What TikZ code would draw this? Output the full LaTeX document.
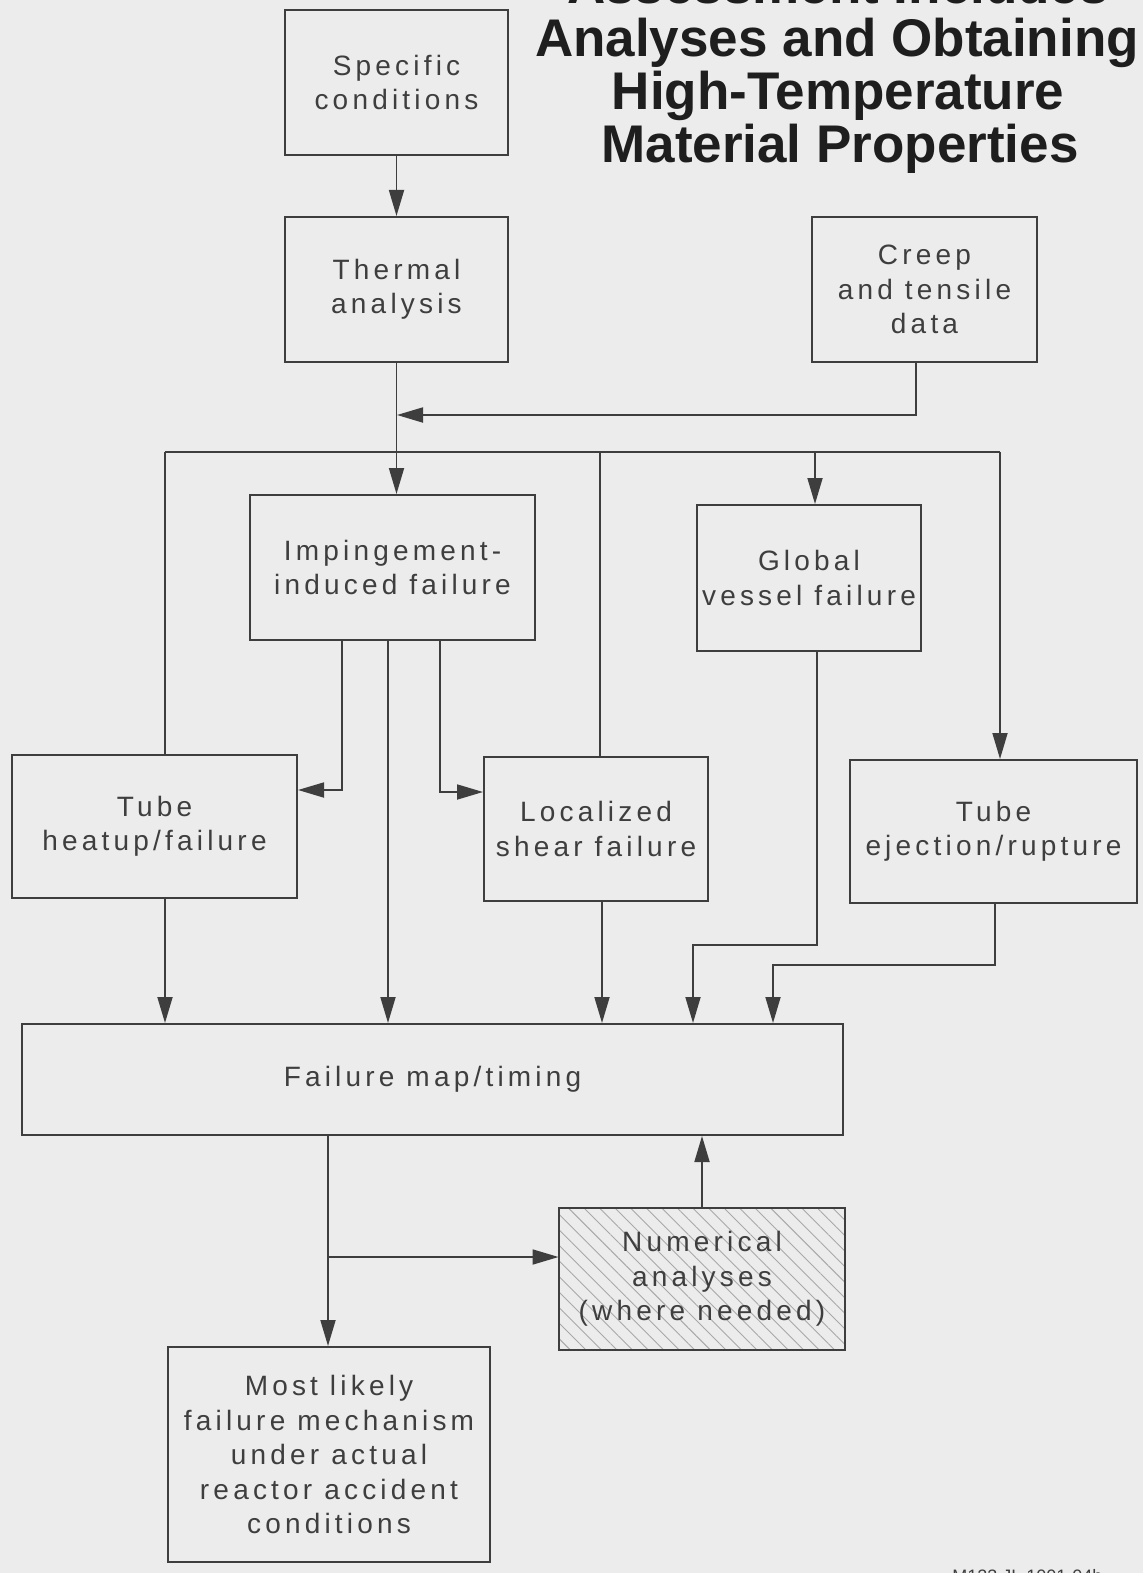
\documentclass[tikz,border=0pt]{standalone}
\usepackage{fontspec}
\setmainfont{Liberation Sans}
\newfontfamily\boxfont{Liberation Sans}[LetterSpace=15]
\usetikzlibrary{arrows.meta,patterns.meta,calc}
\definecolor{bg}{RGB}{236,236,236}
\definecolor{ink}{RGB}{62,62,62}
\definecolor{tink}{RGB}{30,30,30}
\tikzset{
  box/.style={draw=ink, line width=1pt, align=center, text=ink,
    font=\boxfont\fontsize{14pt}{17.25pt}\selectfont, inner sep=0pt},
  ln/.style={draw=ink, line width=0.9pt},
  arr/.style={ln, -{Triangle[length=13pt,width=7.5pt]}},
  ttl/.style={anchor=base, text=tink, font=\bfseries\fontsize{26.5pt}{27pt}\selectfont, inner sep=0pt},
}
\begin{document}
\begin{tikzpicture}[x=0.5pt,y=-0.5pt]
\path[use as bounding box, fill=bg] (0,0) rectangle (1143,1573);

% title
\node[ttl] (t0) at (838,4) {Assessment Includes};
\node[ttl] (t1) at (837,57) {Analyses and Obtaining};
\node[ttl] (t2) at (838,110) {High-Temperature};
\node[ttl] (t3) at (840,163) {Material Properties};

% boxes
\node[box, minimum width=111.5pt, minimum height=72.5pt] (spec) at (396.5,82.5) {Specific\\conditions};
\node[box, minimum width=111.5pt, minimum height=72.5pt] (therm) at (396.5,289.5) {Thermal\\analysis};
\node[box, minimum width=112.5pt, minimum height=72.5pt] (creep) at (924.5,289.5) {Creep\\and tensile\\data};
\node[box, minimum width=142.5pt, minimum height=72.5pt] (imp) at (392.5,567.5) {Impingement-\\induced failure};
\node[box, minimum width=112pt, minimum height=73pt] (glob) at (809,578) {Global\\vessel failure};
\node[box, minimum width=142.5pt, minimum height=71.5pt] (heat) at (154.5,826.5) {Tube\\heatup/failure};
\node[box, minimum width=112pt, minimum height=72pt] (loc) at (596,829) {Localized\\shear failure};
\node[box, minimum width=143.5pt, minimum height=71.5pt] (ej) at (993.5,831.5) {Tube\\ejection/rupture};
\node[box, minimum width=410.5pt, minimum height=55.5pt] (fm) at (432.5,1079.5) {Failure map/timing};
\node[box, minimum width=143pt, minimum height=71pt,
  pattern={Lines[angle=-45,distance=5.5pt,line width=0.45pt]}, pattern color=ink!45] (num) at (702,1279) {Numerical\\analyses\\(where needed)};
\node[box, minimum width=161pt, minimum height=107.5pt] (most) at (329,1454.5) {Most likely\\failure mechanism\\under actual\\reactor accident\\conditions};

% connectors
\draw[arr] (spec) -- (therm);
\draw[arr] (therm.south) -- (therm.south |- imp.north);
\coordinate (cj) at (397,415);
\draw[arr] (creep.south -| 916,0) |- (cj);

\coordinate (bL) at (165,452);
\coordinate (bR) at (1000,452);
\draw[ln] (bL) -- (bR);
\draw[ln] (bL) -- (bL |- heat.north);
\draw[ln] (loc.north -| 600,0) -- (600,452);
\draw[arr] (815,452) -- (glob.north -| 815,0);
\draw[arr] (bR) -- (bR |- ej.north);

\draw[arr] (imp.south -| 342,0) |- (heat.east |- 0,790);
\draw[arr] (imp.south -| 388,0) -- (fm.north -| 388,0);
\draw[arr] (imp.south -| 440,0) |- (loc.west |- 0,792);

\draw[arr] (heat.south -| 165,0) -- (fm.north -| 165,0);
\draw[arr] (loc.south -| 602,0) -- (fm.north -| 602,0);
\draw[arr] (glob.south -| 817,0) -- (817,945) -| (fm.north -| 693,0);
\draw[arr] (ej.south -| 995,0) -- (995,965) -| (fm.north -| 773,0);

\draw[arr] (fm.south -| 328,0) -- (most.north -| 328,0);
\coordinate (br) at (328,1257);
\draw[arr] (br) -- (num.west |- br);
\draw[arr] (num.north -| 702,0) -- (fm.south -| 702,0);

% plate number (cut off at bottom edge, as in the reference)
\node[anchor=base west, text=ink, font=\fontsize{9pt}{10pt}\selectfont, inner sep=0pt] (plate) at (952,1582) {M123 JL 1001-04b};
\end{tikzpicture}
\end{document}
